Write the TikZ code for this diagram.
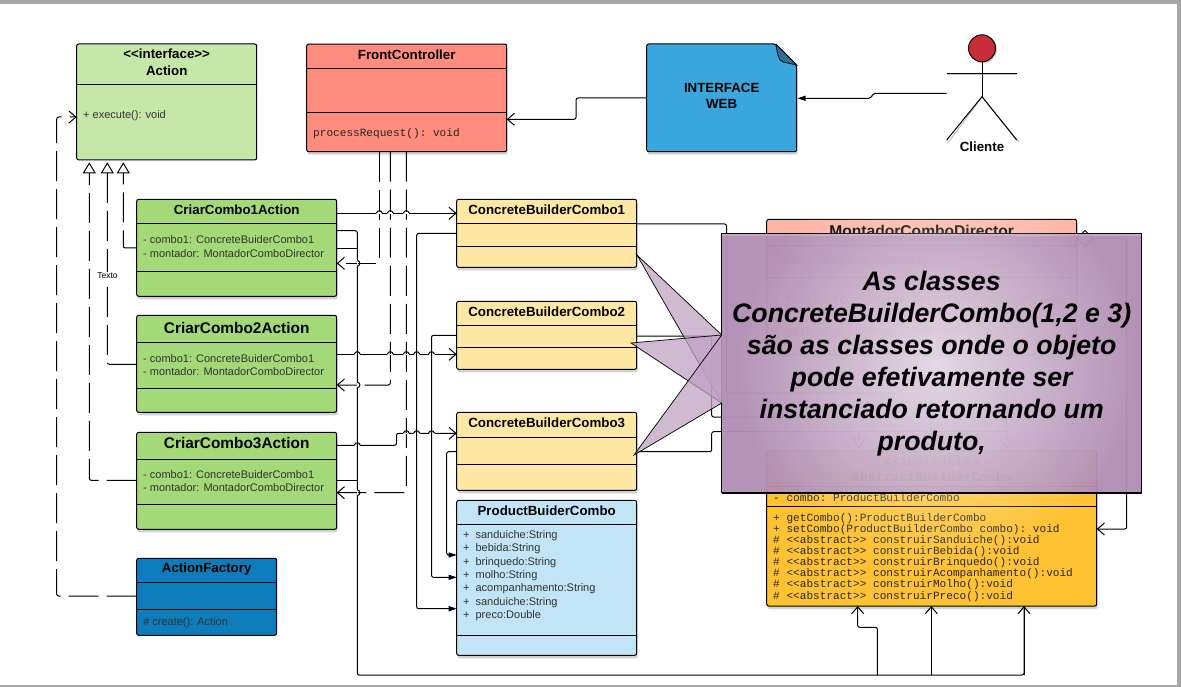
\documentclass[tikz,border=0pt]{standalone}
\usepackage{fontspec}
\setmainfont{Liberation Sans}
\setmonofont{Liberation Mono}
\usetikzlibrary{arrows.meta,shadows,fadings}

\definecolor{actioncol}{HTML}{C5E8A9}
\definecolor{frontcol}{HTML}{FF8C7D}
\definecolor{criarcol}{HTML}{A3D977}
\definecolor{buildercol}{HTML}{FFE8A3}
\definecolor{productcol}{HTML}{C1E4F7}
\definecolor{factorycol}{HTML}{0C7CBA}
\definecolor{webcol}{HTML}{3AA6DE}
\definecolor{foldcol}{HTML}{2B7199}
\definecolor{directorcol}{HTML}{FFB5A6}
\definecolor{abstractcol}{HTML}{FFC233}
\definecolor{headcol}{HTML}{C92D39}
\definecolor{notecol}{HTML}{B28FB5}
\definecolor{tipcol}{HTML}{BFA3C4}

\tikzfading[name=glowfade, inner color=transparent!0, outer color=transparent!100]

\tikzset{
    classbox/.style={draw, line width=1pt, rounded corners=2pt, inner sep=0pt, outer sep=0pt},
    softshadow/.style={drop shadow={shadow xshift=1pt, shadow yshift=-3pt, opacity=0.35}},
    titletext/.style={font=\fontsize{13.3}{15}\bfseries\selectfont},
    bigtitletext/.style={font=\fontsize{15.4}{17}\bfseries\selectfont},
    attrtext/.style={anchor=west, inner sep=0pt, text=black!80, font=\fontsize{11}{13}\selectfont},
    monotext/.style={anchor=west, inner sep=0pt, text=black!85, font=\fontsize{11.1}{13}\ttfamily\selectfont},
    wire/.style={line width=1pt, rounded corners=2pt},
    dashwire/.style={wire, dash pattern=on 30pt off 8pt},
    openhead/.style={-{Straight Barb[length=7pt,width=12pt]}},
    solidhead/.style={-{Triangle[length=8pt,width=5pt]}},
    emptyhead/.style={-{Triangle[open,length=11pt,width=13pt,fill=white]}, shorten >=2pt},
}

\begin{document}
\begin{tikzpicture}[x=1pt,y=-1pt]
    \fill[black!35] (0,0) rectangle (1181,687);
    \fill[white] (0,4.5) rectangle (1177,685);

    % classes
    \begin{scope}[every node/.style={classbox}]
        \node[fill=actioncol, minimum width=180pt, minimum height=116pt] (action) at (166.7,102) {};
        \node[fill=frontcol, softshadow, minimum width=200pt, minimum height=107.7pt] (front) at (406.7,97.9) {};
        \node[fill=criarcol, softshadow, minimum width=200pt, minimum height=97pt] (criar1) at (236.7,247.8) {};
        \node[fill=criarcol, softshadow, minimum width=200pt, minimum height=97pt] (criar2) at (236.7,363.8) {};
        \node[fill=criarcol, softshadow, minimum width=200pt, minimum height=97pt] (criar3) at (236.7,480.8) {};
        \node[fill=factorycol, minimum width=140pt, minimum height=77pt] (factory) at (206.7,596.8) {};
        \node[fill=buildercol, softshadow, minimum width=180pt, minimum height=68pt] (builder1) at (546.7,233.3) {};
        \node[fill=buildercol, softshadow, minimum width=180pt, minimum height=68pt] (builder2) at (546.7,335.3) {};
        \node[fill=buildercol, softshadow, minimum width=180pt, minimum height=78pt] (builder3) at (546.7,451.3) {};
        \node[fill=productcol, softshadow, minimum width=180pt, minimum height=155pt] (product) at (546.7,577.8) {};
        \node[fill=directorcol, softshadow, minimum width=310pt, minimum height=135pt] (director) at (921.7,286.8) {};
        \node[fill=abstractcol, softshadow, minimum width=330pt, minimum height=155pt] (abstract) at (931.7,528.5) {};
    \end{scope}

    \foreach \n/\y in {action/84.3, front/68.3, front/112.3, criar1/223.3, criar1/271.3, criar2/342.3, criar2/388.3,
        criar3/459.3, criar3/504.3, factory/582.3, factory/609.3, builder1/223.3, builder1/246.3, builder2/325.3,
        builder2/347.3, builder3/437.3, builder3/464.3, product/524.3, product/635.3, director/245.7, director/277.3,
        abstract/486.7, abstract/506.7}
        \draw[line width=1pt] (\n.west |- 0,\y) -- (\n.east |- 0,\y);

    % interface web, with its folded corner
    \draw[line width=1pt, fill=webcol, rounded corners=2pt, softshadow] (646.7,44) -- (775.7,44) -- (796.7,65) -- (796.7,151.7) -- (646.7,151.7) -- cycle;
    \draw[line width=0.8pt, fill=foldcol] (775.7,44) -- (796.7,65) -- (783,62) .. controls (778,60) and (778,55) .. (775.7,44);
    \node[titletext, align=center] (web) at (721.7,95.5) {INTERFACE\\[1pt]WEB};
    \coordinate (webwest) at (646.7,98);
    \coordinate (webeast) at (797.5,98.3);

    % actor
    \node[draw, line width=1pt, circle, fill=headcol, minimum size=27pt, inner sep=0pt, drop shadow={shadow xshift=1.5pt, shadow yshift=-1.5pt, opacity=0.35}] (head) at (982,48.3) {};
    \coordinate (hip) at (982,96.7);
    \coordinate (armL) at (946.7,74);
    \coordinate (armR) at (1016.7,74);
    \begin{scope}[shift={(2,2)}, black!22, line width=1.2pt]
        \draw (armL) -- (armR);
        \draw (946.7,140) -- (hip) -- (1016.7,140);
    \end{scope}
    \draw[line width=1pt] (head) -- (hip);
    \draw[line width=1pt] (armL) -- (armR);
    \draw[line width=1pt] (946.7,140) -- (hip) -- (1016.7,140);
    \node[titletext] (cliente) at (982,146.5) {Cliente};

    % class texts
    \begin{scope}[every node/.style={titletext}]
        \node (t0) at (166.7,54) {<{}<interface>{}>};
        \node (t1) at (166.7,70.5) {Action};
        \node (t2) at (406.7,55) {FrontController};
        \node (t3) at (236.7,210) {CriarCombo1Action};
        \node (t4) at (206.7,569) {ActionFactory};
        \node (t5) at (546.7,210) {ConcreteBuilderCombo1};
        \node (t6) at (546.7,311.5) {ConcreteBuilderCombo2};
        \node (t7) at (546.7,423) {ConcreteBuilderCombo3};
        \node (t8) at (546.7,511) {ProductBuiderCombo};
    \end{scope}
    \node[bigtitletext] (t9) at (236.7,327.5) {CriarCombo2Action};
    \node[bigtitletext] (t10) at (236.7,443.5) {CriarCombo3Action};
    \node[titletext, font=\fontsize{15.6}{17}\bfseries\selectfont] (t11) at (921.7,231) {MontadorComboDirector};

    \begin{scope}[every node/.style={attrtext}]
        \node (a0) at (83,115.8) {+ execute(): void};
        \node (a1) at (143,239.5) {- combo1: ConcreteBuiderCombo1};
        \node (a2) at (143,253.5) {- montador: MontadorComboDirector};
        \node (a3) at (143,358.5) {- combo1: ConcreteBuiderCombo1};
        \node (a4) at (143,371.7) {- montador: MontadorComboDirector};
        \node (a5) at (143,475) {- combo1: ConcreteBuiderCombo1};
        \node (a6) at (143,488) {- montador: MontadorComboDirector};
        \node (a7) at (143,623) {\# create(): Action};
        \node (a8) at (773,260.5) {- combo: AbstractBuilderCombo};
        \foreach \i/\y/\s in {1/535.5/sanduiche:String, 2/548.5/bebida:String, 3/562.5/brinquedo:String, 4/575.5/molho:String,
            5/588.5/acompanhamento:String, 6/602.5/sanduiche:String, 7/615.5/preco:Double}
            \node (p\i) at (463,\y) {+\hspace{6pt}\s};
    \end{scope}

    \begin{scope}[every node/.style={monotext}]
        \node (m0) at (313,133.3) {processRequest(): void};
        \node (m1) at (773,301) {+ MontadorComboDirector(AbstractBuilderCombo};
        \node (m2) at (773,333) {+ getCombo(): ProductBuilderCombo};
        \node (m3) at (773,497.7) {- combo: ProductBuilderCombo};
        \node (m4) at (773,518.5) {+ getCombo():ProductBuilderCombo};
        \node (m5) at (773,529.5) {+ setCombo(ProductBuilderCombo combo): void};
        \node (m6) at (773,540.5) {\# <{}<abstract>{}> construirSanduiche():void};
        \node (m7) at (773,551.5) {\# <{}<abstract>{}> construirBebida():void};
        \node (m8) at (773,562.5) {\# <{}<abstract>{}> construirBrinquedo():void};
        \node (m9) at (773,573.5) {\# <{}<abstract>{}> construirAcompanhamento():void};
        \node (m10) at (773,584.5) {\# <{}<abstract>{}> construirMolho():void};
        \node (m11) at (773,596.5) {\# <{}<abstract>{}> construirPreco():void};
    \end{scope}
    \node[font=\fontsize{13.3}{15}\ttfamily\bfseries\selectfont, align=center, inner sep=0pt] (t12) at (931.7,469.5) {<{}<abstract>{}>\\AbstractBuilderCombo};

    % connectors to action
    \draw[dashwire, openhead] (factory.west |- 0,596) -- (56.7,596) -- (56.7,117) -- (action.west |- 0,117);
    \draw[dashwire, emptyhead] (criar1.west |- 0,248) -- (123.3,248) -- (123.3,160.3);
    \draw[dashwire, emptyhead] (criar2.west |- 0,364.3) -- (107.3,364.3) -- (107.3,160.3);
    \draw[dashwire, emptyhead] (criar3.west |- 0,480.3) -- (89.3,480.3) -- (89.3,160.3);
    \node[fill=white, inner sep=1pt, font=\fontsize{8.5}{10}\selectfont] (texto) at (107.5,276) {Texto};

    % front controller to the actions
    \draw[dashwire, openhead] (front.south -| 379.3,0) -- (379.3,263.3) -- (criar1.east |- 0,263.3);
    \draw[dashwire, openhead] (front.south -| 390.3,0) -- (390.3,385) -- (criar2.east |- 0,385);
    \draw[dashwire, openhead] (front.south -| 406.3,0) -- (406.3,492.7) -- (criar3.east |- 0,492.7);

    % actions to builders
    \draw[wire, openhead] (criar1.east |- 0,213.3) -- (builder1.west |- 0,213.3);
    \draw[wire, openhead] (criar2.east |- 0,354.3) -- (builder2.west |- 0,354.3);
    \draw[wire, openhead] (criar3.east |- 0,445.3) -- (396.5,445.3) -- (396.5,433.3) -- (builder3.west |- 0,433.3);

    % hops over the crossing lines
    \foreach \x/\y in {379.3/213.3, 390.3/213.3, 406.3/213.3, 357.3/354.3, 390.3/354.3, 406.3/354.3, 416.7/354.3, 431.5/354.3,
        406.3/433.3, 416.7/433.3, 431.5/433.3, 357.3/445.3} {
        \draw[white, line width=1.6pt] (\x-3,\y) -- (\x+3,\y);
        \draw[line width=1pt] (\x-3,\y) .. controls (\x-2,\y-3.5) and (\x+2,\y-3.5) .. (\x+3,\y);
    }

    % actions to the abstract builder
    \draw[wire] (criar1.east |- 0,230.7) -- (357.3,230.7) -- (357.3,675) -- (1024,675) -- (1024,607);
    \draw[wire] (criar1.east |- 0,248.7) -- (357.3,248.7);
    \draw[wire] (criar3.east |- 0,480.3) -- (357.3,480.3);
    \draw[wire, openhead] (877.3,675) -- (877.3,627.3) -- (857.7,627.3) -- (abstract.south -| 857.7,0);
    \draw[wire, openhead] (931.3,675) -- (abstract.south -| 931.3,0);
    \draw[wire, openhead] (1024,675) -- (abstract.south -| 1024,0);
    \foreach \y in {263.3, 385, 492.7} {
        \draw[white, line width=1.6pt] (357.3,\y-3) -- (357.3,\y+3);
        \draw[line width=1pt] (357.3,\y-3) .. controls (360.8,\y-2) and (360.8,\y+2) .. (357.3,\y+3);
    }

    % builders to product
    \draw[wire, solidhead] (builder1.west |- 0,233.3) -- (416.7,233.3) -- (416.7,608.7) -- (product.west |- 0,608.7);
    \draw[wire, solidhead] (builder2.west |- 0,335.3) -- (431.5,335.3) -- (431.5,577.3) -- (product.west |- 0,577.3);
    \draw[wire, solidhead] (builder3.west |- 0,451.7) -- (446.7,451.7) -- (446.7,555) -- (product.west |- 0,555);

    % builders to abstract, director to abstract
    \draw[wire, emptyhead] (builder1.east |- 0,224) -- (726.5,224) -- (726.5,393) -- (1006.7,393) -- (1006.7,451);
    \draw[wire] (builder2.east |- 0,336) -- (711.7,336) -- (711.7,417) -- (931.7,417) -- (931.7,431.7);
    \draw[wire, emptyhead] (builder3.east |- 0,451.7) -- (711.7,451.7) -- (711.7,431.7) -- (859,431.7) -- (859,451);
    \draw[wire] (859,431.7) -- (1006.7,431.7);
    \draw[wire, openhead] (director.east |- 0,238.3) -- (1126.7,238.3) -- (1126.7,529) -- (abstract.east |- 0,529);
    \node[draw, line width=1pt, fill=white, rotate=45, minimum size=11pt, inner sep=0pt] (diamond) at (1085,238.3) {};

    % web and front controller
    \draw[wire, openhead] (webwest) -- (576,98) -- (576,119.3) -- (front.east |- 0,119.3);
    \draw[wire, solidhead] (armL |- 0,93.3) -- (873,93.3) -- (871,98.3) -- (webeast);

    % the note over everything
    \node[draw, line width=1pt, fill=notecol, fill opacity=0.955, draw opacity=1, minimum width=420pt, minimum height=259.4pt, inner sep=0pt, outer sep=0pt] (note) at (931.7,363) {};
    \coordinate (tip1) at (637,255);
    \coordinate (tip2) at (631,343);
    \coordinate (tip3) at (634,455);
    \foreach \t in {tip1,tip2,tip3}
        \draw[line width=0.7pt, fill=tipcol, fill opacity=0.75] (note.west |- 0,335) -- (\t) -- (note.west |- 0,403);
    \fill[white, opacity=0.64, path fading=glowfade] (936,365) circle (200);
    \fill[white, opacity=0.2] (722.2,233.8) rectangle (1141.2,236.5);
    \draw[line width=2.2pt] (note.south west) -- (note.south east);
    \node[align=center, inner sep=0pt, font=\fontsize{26.7}{32}\bfseries\itshape\selectfont] (notetext) at (931.7,363.5) {As classes\\ConcreteBuilderCombo(1,2 e 3)\\são as classes onde o objeto\\pode efetivamente ser\\instanciado retornando um\\produto,};
\end{tikzpicture}
\end{document}
